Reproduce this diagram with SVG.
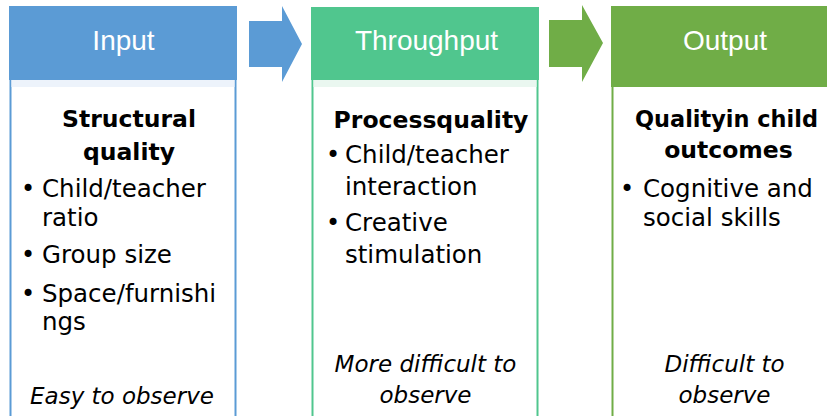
<svg xmlns="http://www.w3.org/2000/svg" width="827" height="416" viewBox="0 0 827 416">
<style>
.hdr{font-family:"Liberation Sans",Arial,sans-serif;font-size:28px;fill:#ffffff;text-anchor:middle}
.ttl{font-family:"DejaVu Sans",Verdana,sans-serif;font-size:23.5px;font-weight:bold;fill:#000;text-anchor:middle}
.txt{font-family:"DejaVu Sans",Verdana,sans-serif;font-size:24.5px;fill:#000}
.bul{font-family:"DejaVu Sans",Verdana,sans-serif;font-size:24px;fill:#000;text-anchor:middle}
.ita{font-family:"DejaVu Sans",Verdana,sans-serif;font-size:23px;font-style:italic;fill:#000;text-anchor:middle}
.body{fill:#ffffff;stroke-width:2}
</style>
<rect width="827" height="416" fill="#ffffff"/>
<g id="connectors">
<polygon points="249,21 282,21 282,6 302,44 282,82 282,67 249,67" fill="#5B9BD5"/>
<polygon points="549,20 582,20 582,5 603,43 582,82 582,67 549,67" fill="#70AD47"/>
</g>
<g id="input">
<rect class="body" x="10.5" y="70" width="225" height="360" stroke="#5B9BD5"/>
<rect x="9" y="6" width="228" height="74" fill="#5B9BD5"/>
<rect x="11.5" y="80" width="223" height="7" fill="#EDF3FB"/>
<text class="hdr" x="123.5" y="50">Input</text>
<text class="ttl" x="129" y="127">Structural</text>
<text class="ttl" x="129" y="160">quality</text>
<text class="bul" x="28" y="197">•</text>
<text class="txt" x="42" y="197">Child/teacher</text>
<text class="txt" x="42" y="226">ratio</text>
<text class="bul" x="28" y="263">•</text>
<text class="txt" x="42" y="263">Group size</text>
<text class="bul" x="28" y="302">•</text>
<text class="txt" x="42" y="302">Space/furnishi</text>
<text class="txt" x="42" y="330">ngs</text>
<text class="ita" x="122" y="404">Easy to observe</text>
</g>
<g id="throughput">
<rect class="body" x="312.5" y="70" width="225" height="360" stroke="#50C68E"/>
<rect x="311" y="7" width="228" height="73" fill="#50C68E"/>
<rect x="313.5" y="80" width="223" height="7" fill="#EAF7F0"/>
<text class="hdr" x="426.5" y="50">Throughput</text>
<text class="ttl" x="431" y="128">Processquality</text>
<text class="bul" x="333" y="163">•</text>
<text class="txt" x="345" y="163">Child/teacher</text>
<text class="txt" x="345" y="195">interaction</text>
<text class="bul" x="333" y="231">•</text>
<text class="txt" x="345" y="231">Creative</text>
<text class="txt" x="345" y="263">stimulation</text>
<text class="ita" x="425.5" y="372">More difficult to</text>
<text class="ita" x="425.5" y="403">observe</text>
</g>
<g id="output">
<rect class="body" x="612.5" y="70" width="225" height="360" stroke="#70AD47"/>
<rect x="611" y="6" width="228" height="81" fill="#70AD47"/>
<text class="hdr" x="725" y="50">Output</text>
<text class="ttl" x="726.5" y="127" textLength="183" lengthAdjust="spacingAndGlyphs">Qualityin child</text>
<text class="ttl" x="728.5" y="158">outcomes</text>
<text class="bul" x="627" y="197">•</text>
<text class="txt" x="643" y="197">Cognitive and</text>
<text class="txt" x="643" y="226">social skills</text>
<text class="ita" x="724.5" y="372">Difficult to</text>
<text class="ita" x="724.5" y="403">observe</text>
</g>
</svg>
